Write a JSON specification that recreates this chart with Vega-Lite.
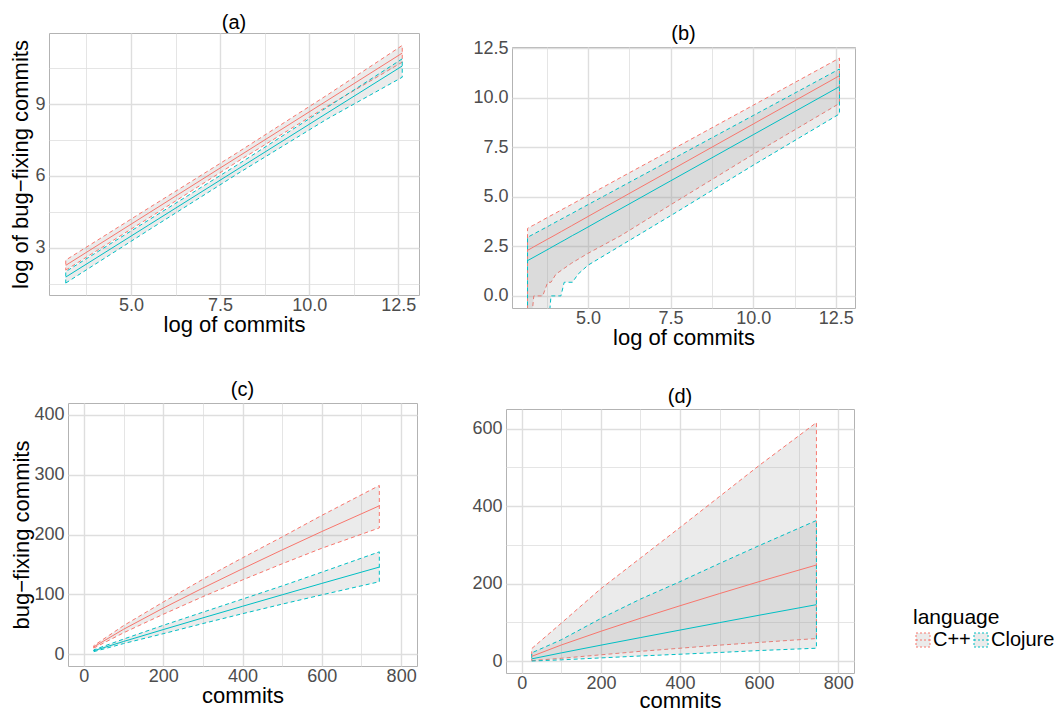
{
  "$schema": "https://vega.github.io/schema/vega-lite/v6.json",
  "padding": {"left": 9, "top": 12, "right": 0, "bottom": 0},
  "config": {
    "font": "Liberation Sans",
    "view": {"stroke": "#b3b3b3", "strokeWidth": 1},
    "axis": {"domain": false, "ticks": false, "labelFontSize": 18, "labelColor": "#4d4d4d", "titleFontSize": 22, "titleColor": "#000000", "titleFontWeight": "normal", "labelPadding": 4, "titlePadding": 2, "gridColor": "#dedede", "labelFlush": false, "labelOverlap": false, "labelBound": false},
    "axisX": {"titlePadding": 0, "labelPadding": 1},
    "title": {"fontSize": 20, "fontWeight": "normal", "baseline": "bottom", "color": "#000000", "anchor": "middle"},
    "legend": {"orient": "none", "legendX": 864, "legendY": 574, "direction": "horizontal", "titleOrient": "top", "titleFontSize": 21, "titleFontWeight": "normal", "titleColor": "#000000", "labelFontSize": 20, "labelColor": "#000000", "symbolType": "M-1,-1H1V1H-1ZM-1,0H1", "symbolSize": 196, "symbolStrokeWidth": 1, "symbolDash": [2, 2], "symbolFillColor": "#ebebeb", "labelOffset": 0, "columnPadding": -3, "titlePadding": 2, "padding": 0}
  },
  "data": {"values": [
    {"p":"a","language":"C++","x":3.17,"lo":2.06,"fit":2.26,"hi":2.48},
    {"p":"a","language":"C++","x":5.5,"lo":4.24,"fit":4.45,"hi":4.66},
    {"p":"a","language":"C++","x":8.0,"lo":6.61,"fit":6.80,"hi":6.99},
    {"p":"a","language":"C++","x":10.5,"lo":8.91,"fit":9.15,"hi":9.38},
    {"p":"a","language":"C++","x":12.61,"lo":10.76,"fit":11.14,"hi":11.46},
    {"p":"a","language":"Clojure","x":3.17,"lo":1.52,"fit":1.77,"hi":2.00},
    {"p":"a","language":"Clojure","x":5.5,"lo":3.74,"fit":3.95,"hi":4.16},
    {"p":"a","language":"Clojure","x":8.0,"lo":6.10,"fit":6.29,"hi":6.48},
    {"p":"a","language":"Clojure","x":10.5,"lo":8.38,"fit":8.63,"hi":8.87},
    {"p":"a","language":"Clojure","x":12.61,"lo":10.13,"fit":10.60,"hi":10.90},
    {"p":"b","language":"C++","x":3.17,"lo":-1,"fit":2.30,"hi":3.41},
    {"p":"b","language":"C++","x":3.30,"lo":-1,"fit":2.42,"hi":3.53},
    {"p":"b","language":"C++","x":3.36,"lo":0,"fit":2.48,"hi":3.58},
    {"p":"b","language":"C++","x":3.63,"lo":0,"fit":2.73,"hi":3.83},
    {"p":"b","language":"C++","x":3.78,"lo":0.69,"fit":2.87,"hi":3.97},
    {"p":"b","language":"C++","x":3.88,"lo":0.69,"fit":2.96,"hi":4.06},
    {"p":"b","language":"C++","x":4.03,"lo":1.10,"fit":3.10,"hi":4.19},
    {"p":"b","language":"C++","x":4.2,"lo":1.3,"fit":3.26,"hi":4.35},
    {"p":"b","language":"C++","x":4.5,"lo":1.65,"fit":3.54,"hi":4.62},
    {"p":"b","language":"C++","x":5.0,"lo":2.15,"fit":4.01,"hi":5.08},
    {"p":"b","language":"C++","x":5.5,"lo":2.6,"fit":4.48,"hi":5.53},
    {"p":"b","language":"C++","x":6.0,"lo":3.05,"fit":4.94,"hi":5.99},
    {"p":"b","language":"C++","x":7.5,"lo":4.6,"fit":6.34,"hi":7.35},
    {"p":"b","language":"C++","x":10.0,"lo":7.15,"fit":8.68,"hi":9.63},
    {"p":"b","language":"C++","x":12.61,"lo":9.72,"fit":11.12,"hi":12.01},
    {"p":"b","language":"Clojure","x":3.17,"lo":-1,"fit":1.78,"hi":2.96},
    {"p":"b","language":"Clojure","x":3.83,"lo":-1,"fit":2.39,"hi":3.55},
    {"p":"b","language":"Clojure","x":3.88,"lo":0,"fit":2.44,"hi":3.60},
    {"p":"b","language":"Clojure","x":4.18,"lo":0,"fit":2.72,"hi":3.87},
    {"p":"b","language":"Clojure","x":4.28,"lo":0.69,"fit":2.81,"hi":3.96},
    {"p":"b","language":"Clojure","x":4.53,"lo":0.69,"fit":3.05,"hi":4.18},
    {"p":"b","language":"Clojure","x":4.7,"lo":1.1,"fit":3.20,"hi":4.34},
    {"p":"b","language":"Clojure","x":5.0,"lo":1.55,"fit":3.48,"hi":4.61},
    {"p":"b","language":"Clojure","x":5.5,"lo":2.05,"fit":3.95,"hi":5.06},
    {"p":"b","language":"Clojure","x":6.0,"lo":2.55,"fit":4.41,"hi":5.51},
    {"p":"b","language":"Clojure","x":7.5,"lo":4.05,"fit":5.81,"hi":6.86},
    {"p":"b","language":"Clojure","x":10.0,"lo":6.6,"fit":8.14,"hi":9.11},
    {"p":"b","language":"Clojure","x":12.61,"lo":9.19,"fit":10.57,"hi":11.46},
    {"p":"c","language":"C++","x":25,"lo":10,"fit":12,"hi":14},
    {"p":"c","language":"C++","x":100,"lo":35.5,"fit":41.4,"hi":47.5},
    {"p":"c","language":"C++","x":200,"lo":66.5,"fit":76.8,"hi":87},
    {"p":"c","language":"C++","x":300,"lo":96,"fit":110.4,"hi":125},
    {"p":"c","language":"C++","x":400,"lo":124,"fit":142.7,"hi":161},
    {"p":"c","language":"C++","x":500,"lo":151,"fit":174.2,"hi":196},
    {"p":"c","language":"C++","x":600,"lo":177,"fit":205,"hi":232},
    {"p":"c","language":"C++","x":745,"lo":211,"fit":248,"hi":282},
    {"p":"c","language":"Clojure","x":25,"lo":4,"fit":5.5,"hi":7},
    {"p":"c","language":"Clojure","x":100,"lo":17.5,"fit":21,"hi":25},
    {"p":"c","language":"Clojure","x":200,"lo":34,"fit":40.9,"hi":48},
    {"p":"c","language":"Clojure","x":300,"lo":51,"fit":60.5,"hi":70},
    {"p":"c","language":"Clojure","x":400,"lo":67.5,"fit":79.9,"hi":92},
    {"p":"c","language":"Clojure","x":500,"lo":83.5,"fit":99.1,"hi":114},
    {"p":"c","language":"Clojure","x":600,"lo":99,"fit":118.2,"hi":137},
    {"p":"c","language":"Clojure","x":745,"lo":121,"fit":145.5,"hi":171},
    {"p":"d","language":"C++","x":25,"lo":1,"fit":12,"hi":32},
    {"p":"d","language":"C++","x":100,"lo":7,"fit":41.4,"hi":98},
    {"p":"d","language":"C++","x":200,"lo":16,"fit":76.8,"hi":187},
    {"p":"d","language":"C++","x":300,"lo":25,"fit":110.4,"hi":266},
    {"p":"d","language":"C++","x":400,"lo":33,"fit":142.7,"hi":345},
    {"p":"d","language":"C++","x":500,"lo":41,"fit":174.2,"hi":425},
    {"p":"d","language":"C++","x":600,"lo":48,"fit":205,"hi":505},
    {"p":"d","language":"C++","x":745,"lo":58,"fit":248,"hi":616},
    {"p":"d","language":"Clojure","x":25,"lo":0,"fit":5.5,"hi":21},
    {"p":"d","language":"Clojure","x":100,"lo":3,"fit":21,"hi":55},
    {"p":"d","language":"Clojure","x":200,"lo":8,"fit":40.9,"hi":110},
    {"p":"d","language":"Clojure","x":300,"lo":13,"fit":60.5,"hi":160},
    {"p":"d","language":"Clojure","x":400,"lo":17.5,"fit":79.9,"hi":205},
    {"p":"d","language":"Clojure","x":500,"lo":22,"fit":99.1,"hi":252},
    {"p":"d","language":"Clojure","x":600,"lo":27,"fit":118.2,"hi":298},
    {"p":"d","language":"Clojure","x":745,"lo":33,"fit":145.5,"hi":363}
  ]},
  "spacing": 30,
  "vconcat": [
    {
      "hconcat": [
        {
          "width": 370, "height": 262,
          "title": {"text": "(a)", "offset": 0},
          "transform": [{"filter": "datum.p === 'a'"}],
          "layer": [
            {
              "mark": {"type": "area", "fill": "#999999", "fillOpacity": 0.2, "strokeWidth": 1, "strokeDash": [4, 3], "clip": true},
              "encoding": {
                "x": {"field": "x", "type": "quantitative", "scale": {"domain": [2.7, 13.08], "nice": false, "zero": false},
                      "axis": {"title": "log of commits", "values": [3.75, 5, 6.25, 7.5, 8.75, 10, 11.25, 12.5], "format": ".1f", "labelExpr": "datum.value % 2.5 === 0 ? datum.label : ''", "gridWidth": {"condition": {"test": "datum.value % 2.5 === 0", "value": 1.4}, "value": 0.8}}},
                "y": {"field": "lo", "type": "quantitative", "scale": {"domain": [1.02, 11.98], "nice": false, "zero": false},
                      "axis": {"title": "log of bug−fixing commits", "values": [1.5, 3, 4.5, 6, 7.5, 9, 10.5], "labelExpr": "datum.value % 3 === 0 ? datum.label : ''", "gridWidth": {"condition": {"test": "datum.value % 3 === 0", "value": 1.4}, "value": 0.8}, "titlePadding": 2}},
                "y2": {"field": "hi"},
                "stroke": {"field": "language", "type": "nominal", "title": "language", "scale": {"domain": ["C++", "Clojure"], "range": ["#F8766D", "#00BFC4"]}, "legend": {"encode": {"symbols": {"update": {"fill": {"value": "#999999"}, "fillOpacity": {"value": 0.2}, "strokeDash": {"value": [2, 2]}}}}}}
              }
            },
            {
              "mark": {"type": "line", "strokeWidth": 1, "clip": true},
              "encoding": {
                "x": {"field": "x", "type": "quantitative"},
                "y": {"field": "fit", "type": "quantitative"},
                "stroke": {"field": "language", "type": "nominal", "title": "language", "legend": {"encode": {"symbols": {"update": {"fill": {"value": "#999999"}, "fillOpacity": {"value": 0.2}, "strokeDash": {"value": [2, 2]}}}}}}
              }
            }
          ]
        },
        {
          "spacing": 0, "bounds": "flush",
          "vconcat": [
            {"width": 1, "height": 14, "transform": [{"filter": "false"}], "mark": "text", "encoding": {"text": {"value": ""}}, "view": {"stroke": null}},
            {
              "width": 343, "height": 261,
              "title": {"text": "(b)", "offset": -5},
              "transform": [{"filter": "datum.p === 'b'"}],
              "layer": [
                {
                  "mark": {"type": "area", "fill": "#999999", "fillOpacity": 0.2, "strokeWidth": 1, "strokeDash": [4, 3], "clip": true},
                  "encoding": {
                    "x": {"field": "x", "type": "quantitative", "scale": {"domain": [2.7, 13.08], "nice": false, "zero": false},
                          "axis": {"title": "log of commits", "values": [3.75, 5, 6.25, 7.5, 8.75, 10, 11.25, 12.5], "format": ".1f", "labelExpr": "datum.value % 2.5 === 0 ? datum.label : ''", "gridWidth": {"condition": {"test": "datum.value % 2.5 === 0", "value": 1.4}, "value": 0.8}}},
                    "y": {"field": "lo", "type": "quantitative", "scale": {"domain": [-0.61, 12.57], "nice": false, "zero": false},
                          "axis": {"title": null, "values": [0, 1.25, 2.5, 3.75, 5, 6.25, 7.5, 8.75, 10, 11.25, 12.5], "format": ".1f", "labelExpr": "datum.value % 2.5 === 0 ? datum.label : ''", "gridWidth": {"condition": {"test": "datum.value % 2.5 === 0", "value": 1.4}, "value": 0.8}}},
                    "y2": {"field": "hi"},
                    "stroke": {"field": "language", "type": "nominal", "title": "language", "legend": {"encode": {"symbols": {"update": {"fill": {"value": "#999999"}, "fillOpacity": {"value": 0.2}, "strokeDash": {"value": [2, 2]}}}}}}
                  }
                },
                {
                  "mark": {"type": "line", "strokeWidth": 1, "clip": true},
                  "encoding": {
                    "x": {"field": "x", "type": "quantitative"},
                    "y": {"field": "fit", "type": "quantitative"},
                    "stroke": {"field": "language", "type": "nominal", "title": "language", "legend": {"encode": {"symbols": {"update": {"fill": {"value": "#999999"}, "fillOpacity": {"value": 0.2}, "strokeDash": {"value": [2, 2]}}}}}}
                  }
                }
              ]
            }
          ]
        }
      ],
      "spacing": 93, "bounds": "flush"
    },
    {
      "hconcat": [
        {"width": 19, "height": 1, "transform": [{"filter": "false"}], "mark": "text", "encoding": {"text": {"value": ""}}, "view": {"stroke": null}},
        {
          "spacing": 89, "bounds": "flush",
          "hconcat": [
            {
              "width": 349, "height": 263,
              "title": {"text": "(c)", "offset": 3},
              "transform": [{"filter": "datum.p === 'c'"}],
              "layer": [
                {
                  "mark": {"type": "area", "fill": "#999999", "fillOpacity": 0.2, "strokeWidth": 1, "strokeDash": [4, 3], "clip": true},
                  "encoding": {
                    "x": {"field": "x", "type": "quantitative", "scale": {"domain": [-40, 840], "nice": false, "zero": false},
                          "axis": {"title": "commits", "values": [0, 100, 200, 300, 400, 500, 600, 700, 800], "format": "d", "labelExpr": "datum.value % 200 === 0 ? datum.label : ''", "gridWidth": {"condition": {"test": "datum.value % 200 === 0", "value": 1.4}, "value": 0.8}}},
                    "y": {"field": "lo", "type": "quantitative", "scale": {"domain": [-20, 420], "nice": false, "zero": false},
                          "axis": {"title": "bug−fixing commits", "values": [0, 50, 100, 150, 200, 250, 300, 350, 400], "format": "d", "labelExpr": "datum.value % 100 === 0 ? datum.label : ''", "gridWidth": {"condition": {"test": "datum.value % 100 === 0", "value": 1.4}, "value": 0.8}, "titlePadding": 0}},
                    "y2": {"field": "hi"},
                    "stroke": {"field": "language", "type": "nominal", "title": "language", "legend": {"encode": {"symbols": {"update": {"fill": {"value": "#999999"}, "fillOpacity": {"value": 0.2}, "strokeDash": {"value": [2, 2]}}}}}}
                  }
                },
                {
                  "mark": {"type": "line", "strokeWidth": 1, "clip": true},
                  "encoding": {
                    "x": {"field": "x", "type": "quantitative"},
                    "y": {"field": "fit", "type": "quantitative"},
                    "stroke": {"field": "language", "type": "nominal", "title": "language", "legend": {"encode": {"symbols": {"update": {"fill": {"value": "#999999"}, "fillOpacity": {"value": 0.2}, "strokeDash": {"value": [2, 2]}}}}}}
                  }
                }
              ]
            },
            {
              "spacing": 0, "bounds": "flush",
              "vconcat": [
                {"width": 1, "height": 6, "transform": [{"filter": "false"}], "mark": "text", "encoding": {"text": {"value": ""}}, "view": {"stroke": null}},
                {
                  "width": 348, "height": 264,
                  "title": {"text": "(d)", "offset": 2},
                  "transform": [{"filter": "datum.p === 'd'"}],
                  "layer": [
                    {
                      "mark": {"type": "area", "fill": "#999999", "fillOpacity": 0.2, "strokeWidth": 1, "strokeDash": [4, 3], "clip": true},
                      "encoding": {
                        "x": {"field": "x", "type": "quantitative", "scale": {"domain": [-40, 840], "nice": false, "zero": false},
                              "axis": {"title": "commits", "titlePadding": -2, "values": [0, 100, 200, 300, 400, 500, 600, 700, 800], "format": "d", "labelExpr": "datum.value % 200 === 0 ? datum.label : ''", "gridWidth": {"condition": {"test": "datum.value % 200 === 0", "value": 1.4}, "value": 0.8}}},
                        "y": {"field": "lo", "type": "quantitative", "scale": {"domain": [-31, 651], "nice": false, "zero": false},
                              "axis": {"title": null, "values": [0, 100, 200, 300, 400, 500, 600], "format": "d", "labelExpr": "datum.value % 200 === 0 ? datum.label : ''", "gridWidth": {"condition": {"test": "datum.value % 200 === 0", "value": 1.4}, "value": 0.8}}},
                        "y2": {"field": "hi"},
                        "stroke": {"field": "language", "type": "nominal", "title": "language", "legend": {"encode": {"symbols": {"update": {"fill": {"value": "#999999"}, "fillOpacity": {"value": 0.2}, "strokeDash": {"value": [2, 2]}}}}}}
                      }
                    },
                    {
                      "mark": {"type": "line", "strokeWidth": 1, "clip": true},
                      "encoding": {
                        "x": {"field": "x", "type": "quantitative"},
                        "y": {"field": "fit", "type": "quantitative"},
                        "stroke": {"field": "language", "type": "nominal", "title": "language", "legend": {"encode": {"symbols": {"update": {"fill": {"value": "#999999"}, "fillOpacity": {"value": 0.2}, "strokeDash": {"value": [2, 2]}}}}}}
                      }
                    }
                  ]
                }
              ]
            }
          ]
        }
      ],
      "spacing": 0, "bounds": "flush"
    }
  ]
}
